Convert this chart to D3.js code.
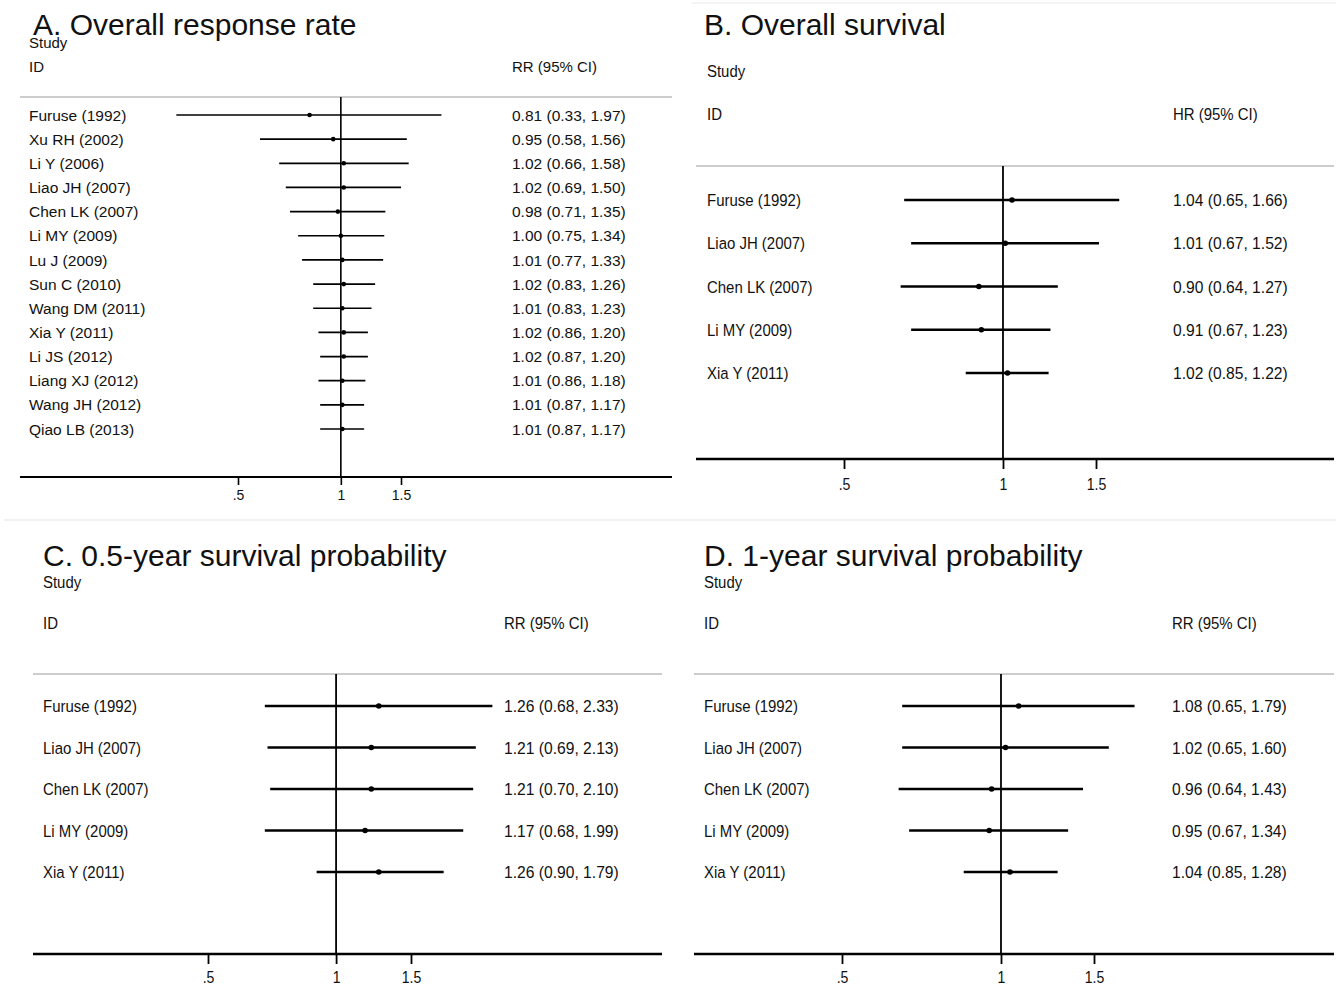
<!DOCTYPE html>
<html>
<head>
<meta charset="utf-8">
<title>Forest plots</title>
<style>
    body { margin: 0; background: #fff; }
    svg text { font-family: "Liberation Sans", Arial, Helvetica, sans-serif; fill: #111; }
    line.ci { stroke: #000; }
    line.nullLine { stroke: #000; }
    line.sep { stroke: #bdbdbd; stroke-width: 1.3; }
    line.axisLine { stroke: #000; }
    .tick line { stroke: #000; }
</style>
</head>
<body>
<div id="target"></div>
<script src="https://cdnjs.cloudflare.com/ajax/libs/d3/7.8.5/d3.min.js"></script>
<script>
    // ---- data ----
    var studiesA = ["Furuse (1992)", "Xu RH (2002)", "Li Y (2006)", "Liao JH (2007)", "Chen LK (2007)",
        "Li MY (2009)", "Lu J (2009)", "Sun C (2010)", "Wang DM (2011)", "Xia Y (2011)",
        "Li JS (2012)", "Liang XJ (2012)", "Wang JH (2012)", "Qiao LB (2013)"];
    var rrA = [0.81, 0.95, 1.02, 1.02, 0.98, 1.00, 1.01, 1.02, 1.01, 1.02, 1.02, 1.01, 1.01, 1.01];
    var loA = [0.33, 0.58, 0.66, 0.69, 0.71, 0.75, 0.77, 0.83, 0.83, 0.86, 0.87, 0.86, 0.87, 0.87];
    var hiA = [1.97, 1.56, 1.58, 1.50, 1.35, 1.34, 1.33, 1.26, 1.23, 1.20, 1.20, 1.18, 1.17, 1.17];

    var studiesB = ["Furuse (1992)", "Liao JH (2007)", "Chen LK (2007)", "Li MY (2009)", "Xia Y (2011)"];
    var hrB = [1.04, 1.01, 0.90, 0.91, 1.02];
    var loB = [0.65, 0.67, 0.64, 0.67, 0.85];
    var hiB = [1.66, 1.52, 1.27, 1.23, 1.22];

    var studiesC = ["Furuse (1992)", "Liao JH (2007)", "Chen LK (2007)", "Li MY (2009)", "Xia Y (2011)"];
    var rrC = [1.26, 1.21, 1.21, 1.17, 1.26];
    var loC = [0.68, 0.69, 0.70, 0.68, 0.90];
    var hiC = [2.33, 2.13, 2.10, 1.99, 1.79];

    var studiesD = ["Furuse (1992)", "Liao JH (2007)", "Chen LK (2007)", "Li MY (2009)", "Xia Y (2011)"];
    var rrD = [1.08, 1.02, 0.96, 0.95, 1.04];
    var loD = [0.65, 0.65, 0.64, 0.67, 0.85];
    var hiD = [1.79, 1.60, 1.43, 1.34, 1.28];

    var tickValues = [0.5, 1, 1.5];
    var tickLabels = [".5", "1", "1.5"];

    var svg = d3.select('#target')
            .append('svg')
            .attr('width', 1336)
            .attr('height', 987);

    // faint borders between the four pictures
    svg.append('line').attr('x1', 4).attr('x2', 1336).attr('y1', 520).attr('y2', 520)
            .attr('stroke', '#ececec').attr('stroke-width', 1.5);
    svg.append('line').attr('x1', 692).attr('x2', 1336).attr('y1', 3).attr('y2', 3)
            .attr('stroke', '#f0f0f0').attr('stroke-width', 1.5);

    var fmt = d3.format('.2f');

    // text squeezed horizontally (the B-D panels use a narrow face)
    var addText = function (g, str, x, y, size, sx, anchor) {
        return g.append('text')
                .attr('transform', 'translate(' + x + ',' + y + ') scale(' + sx + ',1)')
                .attr('font-size', size)
                .attr('text-anchor', anchor || 'start')
                .text(str);
    };

    var plotPanel = function (p) {
        var g = svg.append('g').attr('class', 'panel');
        var rows = p.studies.map(function (s, i) {
            return {study: s, est: p.est[i], lo: p.lo[i], hi: p.hi[i]};
        });

        var x = d3.scaleLog().domain([0.5, 1.5]).range(p.tickPx);
        var y = d3.scalePoint().domain(p.studies).range([p.row0, p.rowN]);

        addText(g, p.title, p.titleX, p.titleY, 30, 1);
        addText(g, 'Study', p.labelX, p.studyY, p.headSize, p.sx);
        addText(g, 'ID', p.labelX, p.idY, p.headSize, p.sx);
        addText(g, p.effLabel, p.valX, p.idY, p.headSize, p.sx);

        g.append('line').attr('class', 'sep')
                .attr('x1', p.left).attr('x2', p.right)
                .attr('y1', p.sepY).attr('y2', p.sepY);

        g.append('line').attr('class', 'nullLine')
                .attr('x1', x(1)).attr('x2', x(1))
                .attr('y1', p.sepY).attr('y2', p.axisY)
                .attr('stroke-width', p.nullW);

        var gRow = g.selectAll('g.row')
                .data(rows)
                .enter()
                .append('g')
                .attr('class', 'row');

        gRow.append('line').attr('class', 'ci')
                .attr('x1', function (d) { return x(d.lo); })
                .attr('x2', function (d) { return x(d.hi); })
                .attr('y1', function (d) { return y(d.study); })
                .attr('y2', function (d) { return y(d.study); })
                .attr('stroke-width', p.ciW);

        gRow.append('circle')
                .attr('cx', function (d) { return x(d.est); })
                .attr('cy', function (d) { return y(d.study); })
                .attr('r', p.dotR)
                .attr('fill', '#000');

        gRow.each(function (d) {
            var r = d3.select(this);
            addText(r, d.study, p.labelX, y(d.study) + p.rowSize * 0.36, p.rowSize, p.sx);
            addText(r, fmt(d.est) + ' (' + fmt(d.lo) + ', ' + fmt(d.hi) + ')',
                    p.valX, y(d.study) + p.rowSize * 0.36, p.rowSize, p.valSx || p.sx);
        });

        // x axis: full-width line, ticks from d3
        g.append('line').attr('class', 'axisLine')
                .attr('x1', p.left).attr('x2', p.right)
                .attr('y1', p.axisY).attr('y2', p.axisY)
                .attr('stroke-width', p.axisW);

        var ax = g.append('g')
                .attr('transform', 'translate(0,' + p.axisY + ')')
                .call(d3.axisBottom(x)
                        .tickValues(tickValues)
                        .tickFormat(function (d, i) { return tickLabels[i]; })
                        .tickSize(p.tickLen)
                        .tickPadding(p.tickPad));
        ax.select('.domain').remove();
        ax.selectAll('.tick line').attr('stroke-width', p.nullW);
        ax.selectAll('.tick text')
                .attr('font-size', p.tickSize)
                .attr('font-family', '"Liberation Sans", Arial, sans-serif')
                .attr('fill', '#111')
                .attr('transform', 'scale(' + p.sx + ',1)');
    };

    plotPanel({
        title: 'A. Overall response rate', effLabel: 'RR (95% CI)',
        studies: studiesA, est: rrA, lo: loA, hi: hiA,
        tickPx: [238, 401], left: 20, right: 672,
        titleX: 33, titleY: 35, labelX: 29, valX: 512,
        studyY: 48, idY: 72, sepY: 97, row0: 115, rowN: 429, axisY: 477,
        headSize: 15, rowSize: 15.5, tickSize: 14, sx: 1,
        ciW: 1.7, nullW: 1.6, axisW: 1.8, dotR: 2.3, tickLen: 8, tickPad: 5
    });

    plotPanel({
        title: 'B. Overall survival', effLabel: 'HR (95% CI)',
        studies: studiesB, est: hrB, lo: loB, hi: hiB,
        tickPx: [844, 1096], left: 696, right: 1334,
        titleX: 704, titleY: 35, labelX: 707, valX: 1173,
        studyY: 77, idY: 120, sepY: 166, row0: 200, rowN: 373, axisY: 459,
        headSize: 17, rowSize: 17, tickSize: 16, sx: 0.88, valSx: 0.92,
        ciW: 2.6, nullW: 1.8, axisW: 2.6, dotR: 2.8, tickLen: 10, tickPad: 10
    });

    plotPanel({
        title: 'C. 0.5-year survival probability', effLabel: 'RR (95% CI)',
        studies: studiesC, est: rrC, lo: loC, hi: hiC,
        tickPx: [208, 411], left: 33, right: 662,
        titleX: 43, titleY: 566, labelX: 43, valX: 504,
        studyY: 588, idY: 629, sepY: 674, row0: 706, rowN: 872, axisY: 954,
        headSize: 17, rowSize: 17, tickSize: 16, sx: 0.88, valSx: 0.92,
        ciW: 2.6, nullW: 1.8, axisW: 2.6, dotR: 2.8, tickLen: 10, tickPad: 8
    });

    plotPanel({
        title: 'D. 1-year survival probability', effLabel: 'RR (95% CI)',
        studies: studiesD, est: rrD, lo: loD, hi: hiD,
        tickPx: [842, 1094], left: 694, right: 1334,
        titleX: 704, titleY: 566, labelX: 704, valX: 1172,
        studyY: 588, idY: 629, sepY: 674, row0: 706, rowN: 872, axisY: 954,
        headSize: 17, rowSize: 17, tickSize: 16, sx: 0.88, valSx: 0.92,
        ciW: 2.6, nullW: 1.8, axisW: 2.6, dotR: 2.8, tickLen: 10, tickPad: 8
    });
</script>
</body>
</html>
